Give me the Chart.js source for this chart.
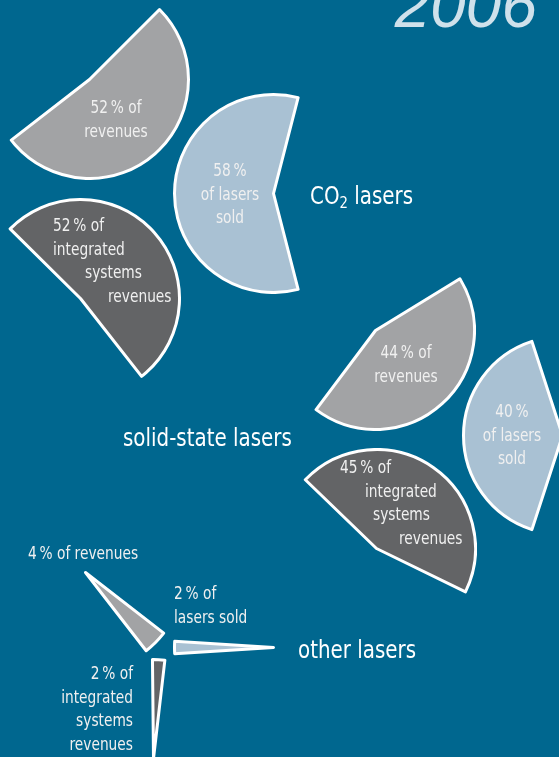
<!DOCTYPE html>
<html>
<head>
<meta charset="utf-8">
<script src="https://cdn.jsdelivr.net/npm/chart.js@4"></script>
<style>
  html, body { margin: 0; padding: 0; overflow: hidden; }
  body {
    width: 559px; height: 757px; position: relative;
    background: #00678f;
    font-family: "DejaVu Sans Condensed", "DejaVu Sans", sans-serif;
    color: #f0f0f0;
  }
  .blade { position: absolute; }
  .line { position: absolute; font-size: 18px; line-height: 24px; white-space: nowrap; }
  .grp { position: absolute; font-size: 24px; line-height: 30px; color: #fff; white-space: nowrap;
         transform: scaleX(0.92); transform-origin: 0 50%; }
  .grp sub { font-size: 16px; vertical-align: -4px; line-height: 0; }
  .year {
    position: absolute; right: 22px; top: -27px;
    font-family: "Liberation Sans", sans-serif; font-style: italic;
    font-size: 64px; line-height: 64px; color: #cfe1eb;
  }
</style>
</head>
<body>
<div class="year">2006</div>
<script>
// shares in percent, one value per laser group
const groupNames = ['CO<sub>2</sub> lasers', 'solid-state lasers', 'other lasers'];
const revenueShare = [52, 44, 4];
const lasersSoldShare = [58, 40, 2];
const integratedShare = [52, 45, 2];

const colors = { revenues: '#a2a3a5', sold: '#a9c1d3', integrated: '#636466' };
const R = 99;
const squeeze = 0.85; // narrow look of the condensed face

// blade apex (px) and the direction the slice opens toward (canvas degrees)
const layout = {
  revenues:   [{ x: 89, y: 79, dir: 48.6 }, { x: 375, y: 330, dir: 47.7 }, { x: 85, y: 572, dir: 45 }],
  sold:       [{ x: 273, y: 193, dir: 180 }, { x: 562, y: 435, dir: 180 }, { x: 273, y: 647, dir: 180 }],
  integrated: [{ x: 80, y: 298, dir: -41.7 }, { x: 376, y: 548, dir: -55 }, { x: 153, y: 758, dir: -87 }]
};

// label placement: x per line, y of first line centre, alignment
const labelPos = {
  revenues:   [{ x: [116, 116], y: 107, align: 'center' },
               { x: [406, 406], y: 352, align: 'center' },
               { x: [28], y: 553, align: 'left' }],
  sold:       [{ x: [230, 230, 230], y: 170, align: 'center' },
               { x: [512, 512, 512], y: 411, align: 'center' },
               { x: [174, 174], y: 593, align: 'left' }],
  integrated: [{ x: [53, 53, 85, 108], y: 225, align: 'left' },
               { x: [340, 365, 373, 399], y: 467, align: 'left' },
               { x: [133, 133, 133, 133], y: 673, align: 'right' }]
};
const groupPos = [{ x: 310, y: 196 }, { x: 123, y: 438 }, { x: 298, y: 650 }];

const pct = v => v + '\u2009%';
const textLines = {
  revenues: (v, g) => g === 2 ? [pct(v) + ' of revenues'] : [pct(v) + ' of', 'revenues'],
  sold: (v, g) => g === 2 ? [pct(v) + ' of', 'lasers sold'] : [pct(v), 'of lasers', 'sold'],
  integrated: (v) => [pct(v) + ' of', 'integrated', 'systems', 'revenues']
};

const series = { revenues: revenueShare, sold: lasersSoldShare, integrated: integratedShare };

function drawBlade(kind, g) {
  const value = series[kind][g];
  const pos = layout[kind][g];
  const size = 2 * R + 3;
  const wrap = document.createElement('div');
  wrap.className = 'blade';
  wrap.style.left = (pos.x - size / 2) + 'px';
  wrap.style.top = (pos.y - size / 2) + 'px';
  const cv = document.createElement('canvas');
  cv.width = size;
  cv.height = size;
  wrap.appendChild(cv);
  document.body.appendChild(wrap);

  new Chart(cv, {
    type: 'doughnut',
    data: {
      labels: [kind, ''],
      datasets: [{
        data: [value, 100 - value],
        backgroundColor: [colors[kind], 'rgba(0,0,0,0)'],
        borderColor: ['#ffffff', 'rgba(0,0,0,0)'],
        borderWidth: [3, 0],
        borderJoinStyle: 'round'
      }]
    },
    options: {
      responsive: false,
      animation: false,
      events: [],
      cutout: 0,
      rotation: pos.dir - value * 1.8 + 90,
      layout: { padding: 0 },
      plugins: { legend: { display: false }, tooltip: { enabled: false } }
    }
  });
}

function drawLabel(kind, g) {
  const lines = textLines[kind](series[kind][g], g);
  const p = labelPos[kind][g];
  lines.forEach((txt, i) => {
    const d = document.createElement('div');
    d.className = 'line';
    d.textContent = txt;
    d.style.top = (p.y - 12 + i * 23.7) + 'px';
    d.style.left = p.x[i] + 'px';
    if (p.align === 'center') {
      d.style.transformOrigin = '50% 50%';
      d.style.transform = `translateX(-50%) scaleX(${squeeze})`;
    } else if (p.align === 'right') {
      d.style.transformOrigin = '100% 50%';
      d.style.transform = `translateX(-100%) scaleX(${squeeze})`;
    } else {
      d.style.transformOrigin = '0 50%';
      d.style.transform = `scaleX(${squeeze})`;
    }
    document.body.appendChild(d);
  });
}

['revenues', 'sold', 'integrated'].forEach(kind => {
  for (let g = 0; g < 3; g++) drawBlade(kind, g);
});
['revenues', 'sold', 'integrated'].forEach(kind => {
  for (let g = 0; g < 3; g++) drawLabel(kind, g);
});

groupNames.forEach((name, g) => {
  const d = document.createElement('div');
  d.className = 'grp';
  d.innerHTML = name;
  d.style.left = groupPos[g].x + 'px';
  d.style.top = (groupPos[g].y - 15) + 'px';
  document.body.appendChild(d);
});
</script>
</body>
</html>
